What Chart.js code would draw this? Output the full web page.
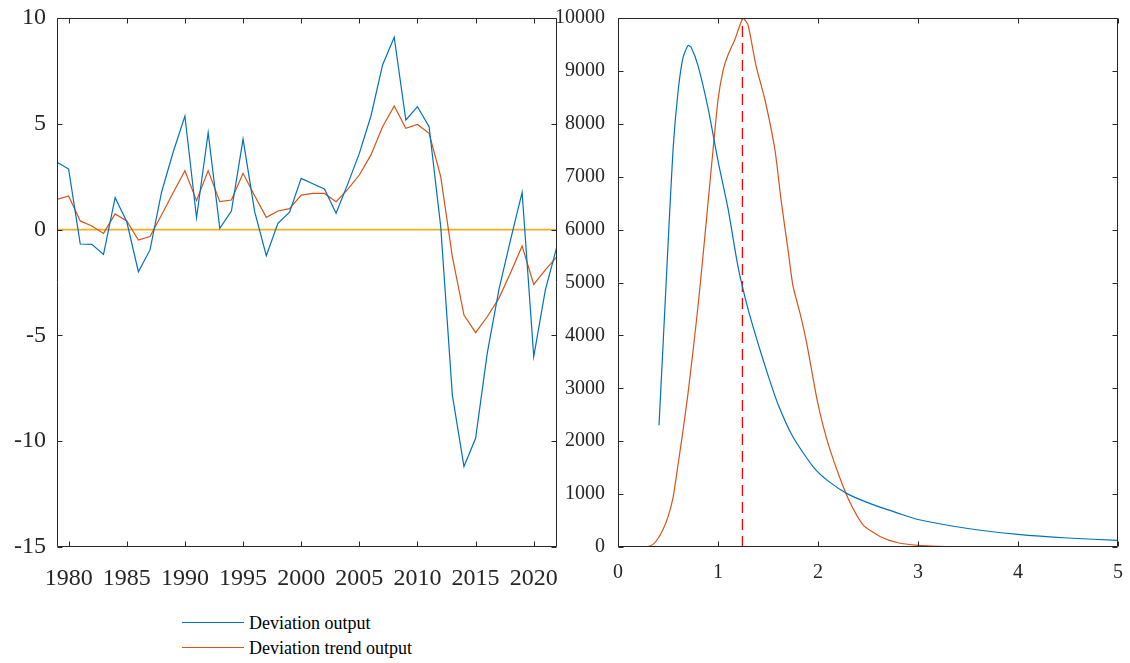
<!DOCTYPE html>
<html>
<head>
<meta charset="utf-8">
<script src="https://cdn.jsdelivr.net/npm/chart.js@4"></script>
<style>
  body { margin: 0; background: #fff; width: 1130px; height: 663px; position: relative; overflow: hidden; }
  canvas { position: absolute; top: 0; }
  #left { left: 0; }
  #right { left: 540px; }
  .leg { position: absolute; font: 18px "Liberation Serif", serif; line-height: 18px; color: #000; white-space: nowrap; }
  .swatch { position: absolute; height: 0; border-top: 1.3px solid; }
</style>
</head>
<body>
<canvas id="left" width="560" height="600"></canvas>
<canvas id="right" width="590" height="600"></canvas>

<div class="swatch" style="left:182px;top:622px;width:62px;border-color:#0072BD"></div>
<div class="leg" style="left:249px;top:614px">Deviation output</div>
<div class="swatch" style="left:182px;top:647px;width:62px;border-color:#D95319"></div>
<div class="leg" style="left:249px;top:639px">Deviation trend output</div>

<script>
// left panel: yearly deviations
const years = [1979, 1980, 1981, 1982, 1983, 1984, 1985, 1986, 1987, 1988, 1989,
  1990, 1991, 1992, 1993, 1994, 1995, 1996, 1997, 1998, 1999,
  2000, 2001, 2002, 2003, 2004, 2005, 2006, 2007, 2008, 2009,
  2010, 2011, 2012, 2013, 2014, 2015, 2016, 2017, 2018, 2019,
  2020, 2021, 2022];
const deviationOutput = [3.18, 2.86, -0.68, -0.70, -1.17, 1.51, 0.37, -1.99, -0.96, 1.79, 3.68,
  5.37, 0.56, 4.58, 0.06, 0.88, 4.28, 0.85, -1.23, 0.30, 0.82,
  2.42, 2.17, 1.92, 0.77, 2.15, 3.6, 5.37, 7.78, 9.09, 5.18,
  5.81, 4.86, 0.14, -7.82, -11.2, -9.86, -5.85, -2.85, -0.5, 1.76,
  -6.0, -2.85, -0.78];
const deviationTrend = [1.43, 1.59, 0.41, 0.17, -0.18, 0.74, 0.41, -0.49, -0.33, 0.70, 1.75,
  2.78, 1.37, 2.79, 1.32, 1.40, 2.66, 1.6, 0.58, 0.88, 0.99,
  1.63, 1.71, 1.71, 1.32, 1.9, 2.58, 3.53, 4.86, 5.84, 4.79,
  4.97, 4.55, 2.50, -1.28, -4.04, -4.87, -4.12, -3.25, -2.05, -0.78,
  -2.59, -1.9, -1.28];
const yearTicks = [1980, 1985, 1990, 1995, 2000, 2005, 2010, 2015, 2020];
const leftYTicks = [-15, -10, -5, 0, 5, 10];

// right panel: two density curves
const blueX = [0.41, 0.45, 0.5, 0.55, 0.6, 0.65, 0.7, 0.73, 0.8, 0.9, 1.0, 1.1, 1.2, 1.3, 1.4,
  1.5, 1.6, 1.75, 1.95, 2.1, 2.3, 2.55, 2.8, 3.0, 3.5, 4.0, 4.5, 5.0];
const blueY = [2300, 3800, 5700, 7500, 8600, 9250, 9480, 9450, 9100, 8300, 7300, 6400, 5300, 4500, 3850,
  3250, 2700, 2080, 1520, 1250, 1000, 800, 640, 520, 350, 240, 170, 125];
const redX = [0, 0.1, 0.2, 0.3, 0.35, 0.4, 0.45, 0.5, 0.55, 0.6, 0.65, 0.7, 0.75, 0.8, 0.85, 0.9,
  0.95, 1.0, 1.05, 1.1, 1.17, 1.25, 1.3, 1.38, 1.47, 1.57, 1.63, 1.7, 1.75, 1.82, 1.88, 1.93,
  1.99, 2.05, 2.12, 2.22, 2.32, 2.45, 2.62, 2.8, 3.0, 3.2, 3.5, 4.0, 4.5];
const redY = [0, 0, 0, 10, 50, 160, 330, 570, 930, 1550, 2200, 2900, 3700, 4550, 5500, 6500,
  7500, 8450, 9000, 9300, 9600, 10000, 9870, 9100, 8450, 7500, 6570, 5620, 4930, 4420, 3920, 3410,
  2790, 2300, 1840, 1300, 840, 420, 200, 80, 30, 10, 0, 0, 0];
const peakX = 1.244;
const rightXTicks = [0, 1, 2, 3, 4, 5];
const rightYTicks = [0, 1000, 2000, 3000, 4000, 5000, 6000, 7000, 8000, 9000, 10000];

const toPoints = (xs, ys) => xs.map((x, i) => ({ x: x, y: ys[i] }));

// box around the plot with inward ticks on all sides
const boxTicks = {
  id: 'boxTicks',
  afterDraw(chart) {
    const ctx = chart.ctx;
    const a = chart.chartArea;
    const x = chart.scales.x, y = chart.scales.y;
    const len = 5;
    ctx.save();
    ctx.strokeStyle = '#262626';
    ctx.lineWidth = 1;
    ctx.beginPath();
    const l = Math.round(a.left) + 0.5, r = Math.round(a.right) - 0.5;
    const t = Math.round(a.top) + 0.5, b = Math.round(a.bottom) - 0.5;
    ctx.rect(l, t, r - l, b - t);
    x.ticks.forEach(tk => {
      const px = Math.round(x.getPixelForValue(tk.value)) + 0.5;
      ctx.moveTo(px, b); ctx.lineTo(px, b - len);
      ctx.moveTo(px, t); ctx.lineTo(px, t + len);
    });
    y.ticks.forEach(tk => {
      const py = Math.round(y.getPixelForValue(tk.value)) + 0.5;
      ctx.moveTo(l, py); ctx.lineTo(l + len, py);
      ctx.moveTo(r, py); ctx.lineTo(r - len, py);
    });
    ctx.stroke();
    ctx.restore();
  }
};

// fixed axis sizes, and no extra room for labels sticking out
function axis(min, max, ticks, size, pad, thickness, horizontal) {
  return {
    type: 'linear',
    min: min,
    max: max,
    grid: { display: false, drawTicks: false },
    border: { display: false },
    afterBuildTicks: s => { s.ticks = ticks.map(v => ({ value: v })); },
    afterFit: s => {
      if (horizontal) s.height = thickness; else s.width = thickness;
      s.paddingLeft = s.paddingRight = s.paddingTop = s.paddingBottom = 0;
    },
    ticks: {
      color: '#262626',
      padding: pad,
      maxRotation: 0,
      autoSkip: false,
      font: { family: 'Liberation Serif', size: size },
      callback: v => String(v)
    }
  };
}

Chart.defaults.animation = false;

new Chart(document.getElementById('left'), {
  type: 'scatter',
  data: {
    datasets: [
      { label: 'Deviation output', data: toPoints(years, deviationOutput), showLine: true,
        borderColor: '#0072BD', borderWidth: 1.2, pointRadius: 0, tension: 0 },
      { label: 'Deviation trend output', data: toPoints(years, deviationTrend), showLine: true,
        borderColor: '#D95319', borderWidth: 1.2, pointRadius: 0, tension: 0 },
      { label: 'zero', data: toPoints([years[0], years[years.length - 1]], [0, 0]), showLine: true,
        borderColor: '#EDB120', borderWidth: 1.6, pointRadius: 0 }
    ]
  },
  options: {
    responsive: false,
    devicePixelRatio: 1,
    layout: { padding: { top: 18, right: 3, left: 0, bottom: 0 } },
    plugins: { legend: { display: false }, tooltip: { enabled: false } },
    scales: {
      x: axis(1979, 2022, yearTicks, 24, 17, 53, true),
      y: axis(-15, 10, leftYTicks, 24, 11, 57, false)
    }
  },
  plugins: [boxTicks]
});

new Chart(document.getElementById('right'), {
  type: 'scatter',
  data: {
    datasets: [
      { label: 'blue', data: toPoints(blueX, blueY), showLine: true,
        borderColor: '#0072BD', borderWidth: 1.2, pointRadius: 0, tension: 0.2 },
      { label: 'red', data: toPoints(redX, redY), showLine: true,
        borderColor: '#D95319', borderWidth: 1.2, pointRadius: 0, tension: 0.2 },
      { label: 'peak', data: toPoints([peakX, peakX], [0, 10000]), showLine: true,
        borderColor: '#FF0000', borderWidth: 1.3, borderDash: [11, 6], pointRadius: 0 }
    ]
  },
  options: {
    responsive: false,
    devicePixelRatio: 1,
    layout: { padding: { top: 18, right: 12, left: 0, bottom: 0 } },
    plugins: { legend: { display: false }, tooltip: { enabled: false } },
    scales: {
      x: axis(0, 5, rightXTicks, 20, 14, 53, true),
      y: axis(0, 10000, rightYTicks, 20, 13, 78, false)
    }
  },
  plugins: [boxTicks]
});
</script>
</body>
</html>
